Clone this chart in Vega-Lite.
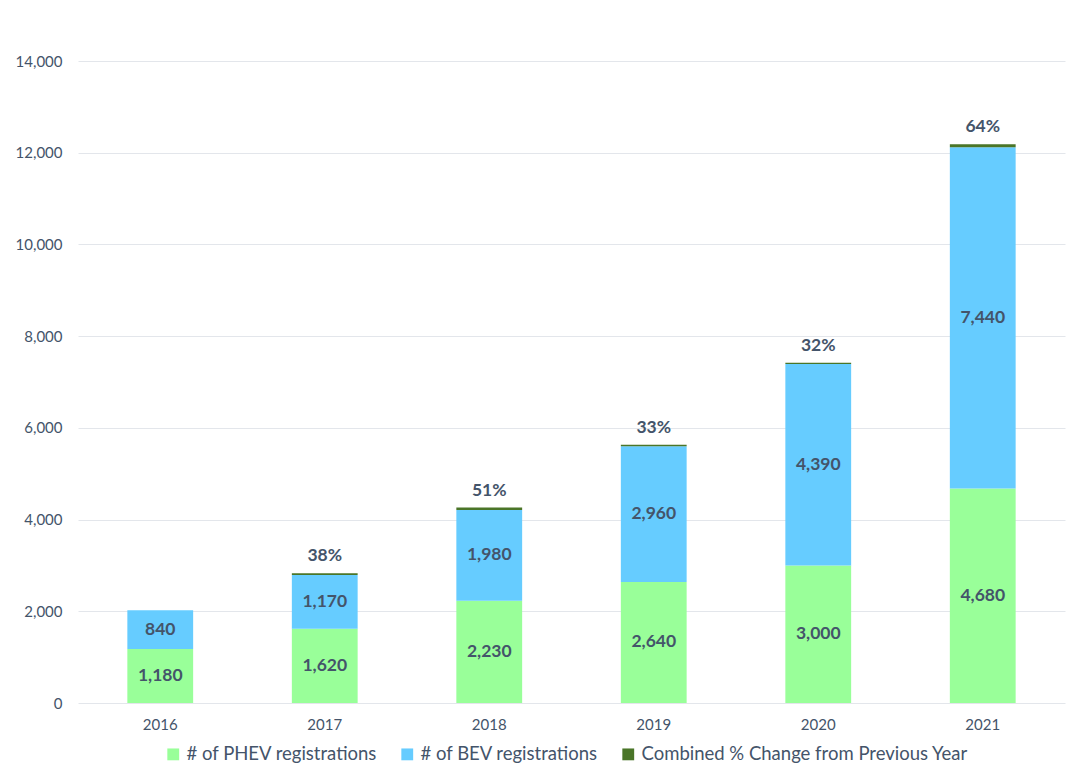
{
  "$schema": "https://vega.github.io/schema/vega-lite/v6.json",
  "width": 987,
  "height": 642,
  "autosize": {"type": "none"},
  "padding": {"left": 78, "top": 61, "right": 17, "bottom": 76},
  "background": "white",
  "config": {
    "view": {"stroke": null},
    "font": "Lato",
    "axis": {"labelFont": "Lato", "labelColor": "#44546A", "labelFontSize": 15}
  },
  "data": {
    "values": [
      {"year": "2016", "series": "# of PHEV registrations", "ord": 1, "value": 1180},
      {"year": "2016", "series": "# of BEV registrations", "ord": 2, "value": 840},
      {"year": "2017", "series": "# of PHEV registrations", "ord": 1, "value": 1620},
      {"year": "2017", "series": "# of BEV registrations", "ord": 2, "value": 1170},
      {"year": "2017", "series": "Combined % Change from Previous Year", "ord": 3, "value": 38},
      {"year": "2018", "series": "# of PHEV registrations", "ord": 1, "value": 2230},
      {"year": "2018", "series": "# of BEV registrations", "ord": 2, "value": 1980},
      {"year": "2018", "series": "Combined % Change from Previous Year", "ord": 3, "value": 51},
      {"year": "2019", "series": "# of PHEV registrations", "ord": 1, "value": 2640},
      {"year": "2019", "series": "# of BEV registrations", "ord": 2, "value": 2960},
      {"year": "2019", "series": "Combined % Change from Previous Year", "ord": 3, "value": 33},
      {"year": "2020", "series": "# of PHEV registrations", "ord": 1, "value": 3000},
      {"year": "2020", "series": "# of BEV registrations", "ord": 2, "value": 4390},
      {"year": "2020", "series": "Combined % Change from Previous Year", "ord": 3, "value": 32},
      {"year": "2021", "series": "# of PHEV registrations", "ord": 1, "value": 4680},
      {"year": "2021", "series": "# of BEV registrations", "ord": 2, "value": 7440},
      {"year": "2021", "series": "Combined % Change from Previous Year", "ord": 3, "value": 64}
    ]
  },
  "transform": [
    {"stack": "value", "groupby": ["year"], "sort": [{"field": "ord"}], "as": ["v0", "v1"]},
    {"calculate": "(datum.v0 + datum.v1) / 2", "as": "vmid"},
    {"calculate": "datum.value + '%'", "as": "pct"}
  ],
  "encoding": {
    "x": {
      "field": "year",
      "type": "ordinal",
      "scale": {"paddingInner": 0.6, "paddingOuter": 0.3},
      "axis": {"title": null, "labelAngle": 0, "ticks": false, "domain": false, "labelPadding": 14, "grid": false}
    }
  },
  "layer": [
    {
      "mark": {"type": "bar"},
      "encoding": {
        "y": {
          "field": "v0",
          "type": "quantitative",
          "scale": {"domain": [0, 14000], "nice": false},
          "axis": {
            "title": null,
            "values": [0, 2000, 4000, 6000, 8000, 10000, 12000, 14000],
            "format": ",.0f",
            "ticks": false,
            "domain": false,
            "labelPadding": 16,
            "gridColor": "#E3E6EB",
            "gridWidth": 1
          }
        },
        "y2": {"field": "v1"},
        "color": {
          "field": "series",
          "type": "nominal",
          "scale": {
            "domain": ["# of PHEV registrations", "# of BEV registrations", "Combined % Change from Previous Year"],
            "range": ["#99FF99", "#66CCFF", "#4A7528"]
          },
          "legend": {
            "title": null,
            "orient": "none",
            "legendX": 86,
            "legendY": 684,
            "direction": "horizontal",
            "symbolType": "square",
            "symbolSize": 140,
            "symbolStrokeWidth": 0,
            "labelFont": "Lato",
            "labelFontSize": 18.5,
            "labelColor": "#44546A",
            "labelOffset": 4,
            "columnPadding": 20,
            "labelLimit": 400
          }
        }
      }
    },
    {
      "transform": [{"filter": "datum.ord < 3"}],
      "mark": {"type": "text", "fontWeight": "bold", "fontSize": 17.5, "color": "#44546A", "baseline": "middle", "font": "Lato"},
      "encoding": {
        "y": {"field": "vmid", "type": "quantitative"},
        "text": {"field": "value", "type": "quantitative", "format": ",.0f"}
      }
    },
    {
      "transform": [{"filter": "datum.ord == 3"}],
      "mark": {"type": "text", "fontWeight": "bold", "fontSize": 17.5, "color": "#44546A", "baseline": "bottom", "dy": -8, "font": "Lato"},
      "encoding": {
        "y": {"field": "v1", "type": "quantitative"},
        "text": {"field": "pct", "type": "nominal"}
      }
    }
  ]
}
